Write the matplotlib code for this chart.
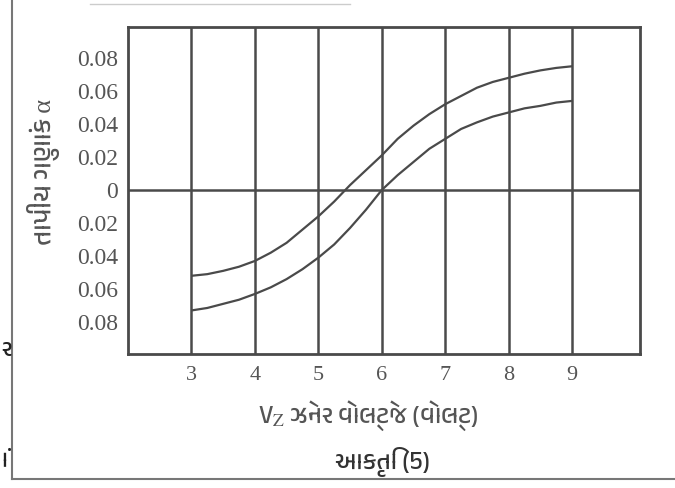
import matplotlib
matplotlib.use("Agg")
import matplotlib.pyplot as plt
from matplotlib import font_manager
from matplotlib.lines import Line2D

# ---- data ----
vz = [3.0, 3.25, 3.5, 3.75, 4.0, 4.25, 4.5, 4.75, 5.0, 5.25, 5.5, 5.75, 6.0,
      6.25, 6.5, 6.75, 7.0, 7.25, 7.5, 7.75, 8.0, 8.25, 8.5, 8.75, 9.0]
alpha_upper = [-0.052, -0.051, -0.049, -0.0465, -0.043, -0.038, -0.032, -0.024, -0.016,
               -0.007, 0.003, 0.012, 0.021, 0.031, 0.039, 0.046, 0.052, 0.057, 0.062,
               0.0655, 0.068, 0.0705, 0.0725, 0.074, 0.075]
alpha_lower = [-0.073, -0.0715, -0.069, -0.0665, -0.063, -0.059, -0.054, -0.048, -0.041,
               -0.033, -0.023, -0.012, 0.000, 0.009, 0.017, 0.025, 0.031, 0.037, 0.041,
               0.0445, 0.047, 0.0495, 0.051, 0.053, 0.054]
x_ticks = [3, 4, 5, 6, 7, 8, 9]
y_ticks = [0.08, 0.06, 0.04, 0.02, 0.0, -0.02, -0.04, -0.06, -0.08]
y_tick_labels = ["0.08", "0.06", "0.04", "0.02", "0", "0.02", "0.04", "0.06", "0.08"]
x_label = "ઝેનર વોલ્ટેજ (વોલ્ટ)"
y_label = "તાપીય ગુણાંક α"
caption = "આકૃતિ (5)"

# ---- fonts ----
plt.rcParams["mathtext.fontset"] = "stix"
names = sorted({f.name for f in font_manager.fontManager.ttflist})
guj = [n for n in names if any(k in n for k in ("Gujarati", "Lohit", "Shruti", "Rekha", "Padmaa"))]
serif_fam = ["Liberation Serif", "DejaVu Serif"]
guj_fam = guj + ["Liberation Serif", "DejaVu Sans"]
ink = "#4a4a4a"
txt = "#555555"

fig = plt.figure(figsize=(6.75, 4.88), dpi=100)
fig.patch.set_facecolor("white")
ax = fig.add_axes([128 / 675, 1 - 354 / 488, 512 / 675, 327 / 488])

for xv in x_ticks:
    ax.axvline(xv, color=ink, lw=1.8, zorder=1)
ax.axhline(0, color=ink, lw=1.8, zorder=1)

ax.plot(vz, alpha_upper, color=ink, lw=1.6, solid_capstyle="butt", zorder=2)
ax.plot(vz, alpha_lower, color=ink, lw=1.6, solid_capstyle="butt", zorder=2)

ax.set_xlim(2.0, 10.07)
ax.set_ylim(-0.0994, 0.0988)
for s in ax.spines.values():
    s.set_color(ink)
    s.set_linewidth(2.0)

ax.set_xticks(x_ticks)
ax.set_xticklabels([str(v) for v in x_ticks], family=serif_fam, fontsize=16, color=txt)
ax.set_yticks(y_ticks)
ax.set_yticklabels(y_tick_labels, family=serif_fam, fontsize=17, color=txt)
ax.tick_params(length=0)
ax.tick_params(axis="y", pad=7)
ax.tick_params(axis="x", pad=9)

# axis labels
fig.text(368 / 675, 1 - 416 / 488, "V$_{\\mathrm{Z}}$ " + x_label, ha="center", va="center",
         fontsize=18, color=txt, family=guj_fam)
fig.text(43 / 675, 1 - 172 / 488, y_label, ha="center", va="center", rotation=90,
         fontsize=19, color=txt, family=guj_fam)
fig.text(383 / 675, 1 - 462 / 488, caption, ha="center", va="center",
         fontsize=18, color="#333333", family=guj_fam, fontweight="bold")

# fragments of neighbouring text at the left edge of the scan
fig.text(1 / 675, 1 - 350 / 488, "ર", ha="left", va="center", fontsize=17, color="#222222", family=guj_fam)
fig.text(1 / 675, 1 - 460 / 488, "ાં", ha="left", va="center", fontsize=17, color="#222222", family=guj_fam)

# outer frame of the scan
fig.add_artist(Line2D([12 / 675, 12 / 675], [1 - 479 / 488, 1.0], color="#777777", lw=1.5, transform=fig.transFigure))
fig.add_artist(Line2D([12 / 675, 1.0], [1 - 479 / 488, 1 - 479 / 488], color="#777777", lw=1.5, transform=fig.transFigure))
fig.add_artist(Line2D([90 / 675, 350 / 675], [1 - 4 / 488, 1 - 4 / 488], color="#cccccc", lw=1.0, transform=fig.transFigure))

fig.savefig("out.png", dpi=100, facecolor="white")
